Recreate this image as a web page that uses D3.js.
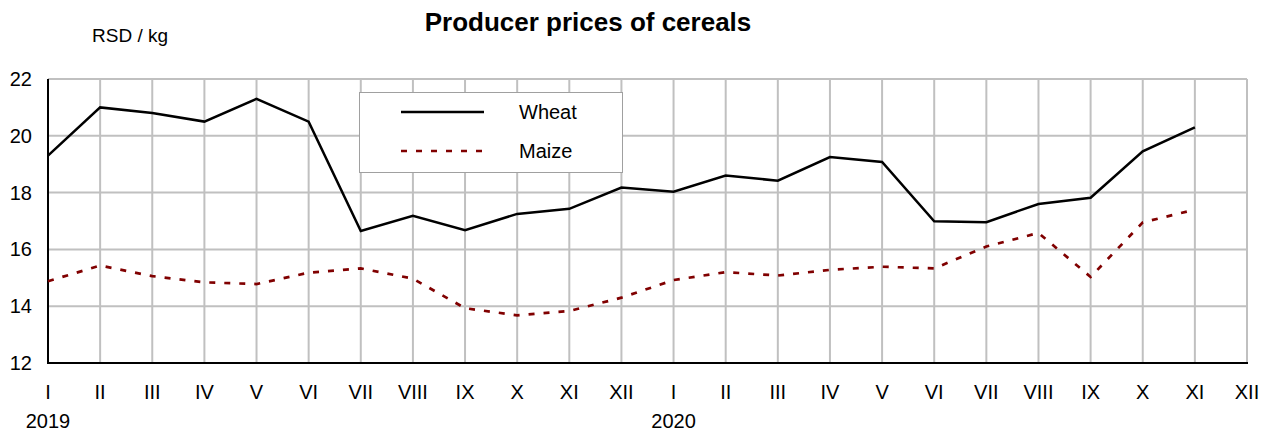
<!DOCTYPE html>
<html>
<head>
<meta charset="utf-8">
<script src="https://cdn.jsdelivr.net/npm/d3@7"></script>
<style>
  body { margin: 0; background: #fff; }
  text { font-family: "Liberation Sans", Arial, sans-serif; fill: #000; }
</style>
</head>
<body>
<div id="chart"></div>
<script>
// months, two years
const months = ["I","II","III","IV","V","VI","VII","VIII","IX","X","XI","XII",
                "I","II","III","IV","V","VI","VII","VIII","IX","X","XI","XII"];
const years = [{label: "2019", idx: 0}, {label: "2020", idx: 12}];
const wheat = [19.3, 21.0, 20.8, 20.5, 21.3, 20.5, 16.65, 17.18, 16.68, 17.25, 17.43, 18.18,
               18.03, 18.6, 18.42, 19.25, 19.08, 16.99, 16.96, 17.6, 17.82, 19.45, 20.3];
const maize = [14.88, 15.43, 15.06, 14.84, 14.78, 15.18, 15.33, 14.97, 13.93, 13.68, 13.83, 14.3,
               14.92, 15.2, 15.08, 15.28, 15.39, 15.33, 16.1, 16.58, 15.03, 16.95, 17.4];
const yTicks = [12, 14, 16, 18, 20, 22];

const W = 1272, H = 436;
const M = {left: 48, right: 25, top: 79, bottom: 73};

const svg = d3.select("#chart").append("svg")
    .attr("width", W).attr("height", H);

const x = d3.scaleLinear().domain([0, months.length - 1]).range([M.left, W - M.right]);
const y = d3.scaleLinear().domain([12, 22]).range([H - M.bottom, M.top]);

// grid
svg.append("g").selectAll("line.v")
    .data(d3.range(1, months.length))
    .join("line")
    .attr("x1", d => x(d)).attr("x2", d => x(d))
    .attr("y1", y(22)).attr("y2", y(12))
    .attr("stroke", "#c0c0c0").attr("stroke-width", 2);

svg.append("g").selectAll("line.h")
    .data(yTicks.slice(1))
    .join("line")
    .attr("x1", x(0)).attr("x2", x(months.length - 1))
    .attr("y1", d => y(d)).attr("y2", d => y(d))
    .attr("stroke", "#c0c0c0").attr("stroke-width", 2);

// left + bottom axis lines
svg.append("line")
    .attr("x1", x(0)).attr("x2", x(0)).attr("y1", y(22)).attr("y2", y(12))
    .attr("stroke", "#000").attr("stroke-width", 2);
svg.append("line")
    .attr("x1", x(0) - 1).attr("x2", x(months.length - 1) + 1).attr("y1", y(12)).attr("y2", y(12))
    .attr("stroke", "#000").attr("stroke-width", 2);

// y tick labels
svg.append("g").selectAll("text")
    .data(yTicks)
    .join("text")
    .attr("x", 32).attr("y", d => y(d))
    .attr("dy", "0.35em")
    .attr("text-anchor", "end")
    .style("font-size", "20px")
    .text(d => d);

// month labels
svg.append("g").selectAll("text")
    .data(months)
    .join("text")
    .attr("x", (d, i) => x(i)).attr("y", 399)
    .attr("text-anchor", "middle")
    .style("font-size", "20px")
    .text(d => d);

// year labels
svg.append("g").selectAll("text")
    .data(years)
    .join("text")
    .attr("x", d => x(d.idx)).attr("y", 428)
    .attr("text-anchor", "middle")
    .style("font-size", "20px")
    .text(d => d.label);

// series
const line = d3.line().x((d, i) => x(i)).y(d => y(d));

svg.append("path").datum(wheat)
    .attr("d", line)
    .attr("fill", "none").attr("stroke", "#000").attr("stroke-width", 2.5);

svg.append("path").datum(maize)
    .attr("d", line)
    .attr("fill", "none").attr("stroke", "#800000").attr("stroke-width", 2.7)
    .attr("stroke-dasharray", "6,9");

// title and unit
svg.append("text")
    .attr("x", 588).attr("y", 31)
    .attr("text-anchor", "middle")
    .style("font-size", "26px").style("font-weight", "bold")
    .text("Producer prices of cereals");

svg.append("text")
    .attr("x", 92).attr("y", 42)
    .style("font-size", "19px")
    .text("RSD / kg");

// legend
const legend = svg.append("g");
legend.append("rect")
    .attr("x", 359.5).attr("y", 92.5).attr("width", 263).attr("height", 80)
    .attr("fill", "#fff").attr("stroke", "#a0a0a0").attr("stroke-width", 1);

const items = [
  {name: "Wheat", color: "#000", dash: null, w: 2.5},
  {name: "Maize", color: "#800000", dash: "6,9", w: 2.7}
];
items.forEach((it, i) => {
  const ly = 112 + i * 39;
  legend.append("line")
      .attr("x1", 401).attr("x2", 484).attr("y1", ly).attr("y2", ly)
      .attr("stroke", it.color).attr("stroke-width", it.w)
      .attr("stroke-dasharray", it.dash);
  legend.append("text")
      .attr("x", 519).attr("y", ly).attr("dy", "0.35em")
      .style("font-size", "20px")
      .text(it.name);
});
</script>
</body>
</html>
